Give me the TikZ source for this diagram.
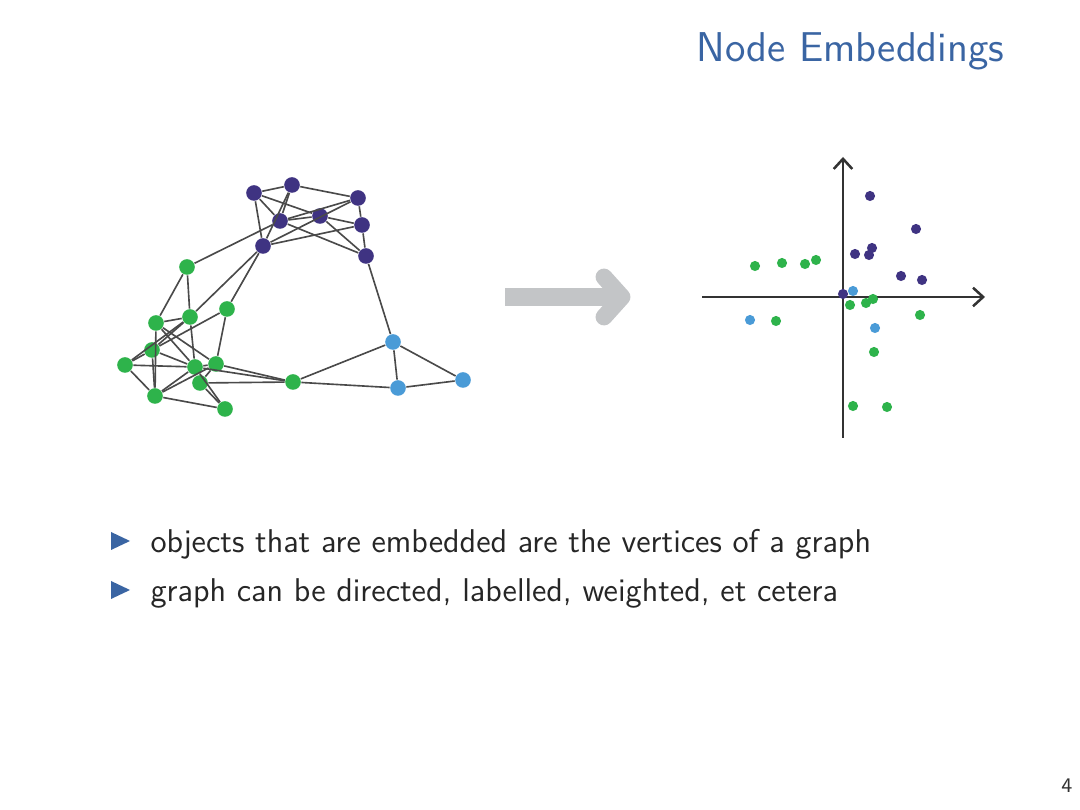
\documentclass[tikz,border=0pt]{standalone}
\usetikzlibrary{arrows.meta}
\definecolor{pur}{HTML}{3F3382}
\definecolor{grn}{HTML}{2EB34B}
\definecolor{blu}{HTML}{4A9BD7}
\definecolor{ttl}{HTML}{3A65A3}
\definecolor{arrg}{HTML}{C3C5C7}
\definecolor{edg}{HTML}{4A4A4A}
\definecolor{axs}{HTML}{333333}
\begin{document}
\begin{tikzpicture}[x=0.11852mm,y=-0.11852mm,
  gv/.style={circle,inner sep=0pt,minimum size=1.85mm},
  pv/.style={gv,fill=pur}, gn/.style={gv,fill=grn}, bv/.style={gv,fill=blu},
  sd/.style={circle,inner sep=0pt,minimum size=1.2mm},
  sp/.style={sd,fill=pur}, sg/.style={sd,fill=grn}, sb/.style={sd,fill=blu},
  edge/.style={draw=edg,line width=0.55pt},
  axis/.style={draw=axs,line width=0.85pt,-{Straight Barb[length=1.2mm,width=2.2mm,line width=0.85pt]}},
  bodytext/.style={anchor=base west,font=\sffamily\fontsize{11.1}{13}\selectfont,text=black!85}]
\useasboundingbox (0,0) rectangle (1080,810);
\fill[white] (0,0) rectangle (1080,810);

% title
\node[anchor=base east,inner sep=0pt,font=\sffamily\fontsize{14.05}{17}\selectfont,text=ttl] (title) at (1005,62) {Node Embeddings};

% graph nodes
\node[pv] (p1) at (254,193) {};
\node[pv] (p2) at (292,185) {};
\node[pv] (p3) at (358,198) {};
\node[pv] (p4) at (280,221) {};
\node[pv] (p5) at (320,216) {};
\node[pv] (p6) at (362,225) {};
\node[pv] (p7) at (263,246) {};
\node[pv] (p8) at (366,256) {};
\node[gn] (g1) at (187,267) {};
\node[gn] (g2) at (156,323) {};
\node[gn] (g3) at (190,317) {};
\node[gn] (g4) at (227,309) {};
\node[gn] (g5) at (152,350) {};
\node[gn] (g6) at (125,365) {};
\node[gn] (g7) at (195,367) {};
\node[gn] (g8) at (216,364) {};
\node[gn] (g9) at (200,383) {};
\node[gn] (g10) at (155,396) {};
\node[gn] (g11) at (225,409) {};
\node[gn] (g12) at (293,382) {};
\node[bv] (b1) at (393,342) {};
\node[bv] (b2) at (398,388) {};
\node[bv] (b3) at (463,380) {};

\foreach \a/\b in {p1/p2,p2/p3,p1/p4,p1/p5,p1/p7,p2/p4,p2/p7,p3/p4,p3/p6,p3/p7,
  p4/p8,p5/p6,p5/p8,p6/p8,p6/p7,p4/p5,
  g1/p4,p7/g3,p7/g4,p8/b1,
  g1/g2,g1/g3,g2/g3,g2/g7,g2/g8,g2/g10,g3/g7,g3/g6,g3/g5,g4/g5,g4/g8,
  g5/g6,g5/g10,g5/g7,g6/g7,g6/g10,g10/g7,g10/g8,g10/g11,g7/g8,g7/g11,
  g7/g12,g8/g12,g9/g12,g8/g9,g9/g11,
  g12/b1,g12/b2,b1/b2,b1/b3,b2/b3}
  \draw[edge] (\a) -- (\b);

% big gray arrow
\fill[arrg] (505,288) rectangle (612,306);
\draw[arrg,line width=2.0mm,line cap=round,line join=round] (604,277) -- (622,297) -- (604,317);

% axes
\coordinate (xl) at (702,297);
\coordinate (xr) at (985,297);
\coordinate (yb) at (843,438);
\coordinate (yt) at (843,157);
\draw[axis] (xl) -- (xr);
\draw[axis] (yb) -- (yt);

% embedded points
\node[sp] (e1) at (870,196) {};
\node[sp] (e2) at (916,229) {};
\node[sp] (e3) at (872,248) {};
\node[sp] (e4) at (869,255) {};
\node[sp] (e5) at (855,254) {};
\node[sp] (e6) at (901,276) {};
\node[sp] (e7) at (922,280) {};
\node[sp] (e8) at (843,294) {};
\node[sb] (e9) at (853,291) {};
\node[sb] (e10) at (750,320) {};
\node[sb] (e11) at (875,328) {};
\node[sg] (e12) at (755,266) {};
\node[sg] (e13) at (782,263) {};
\node[sg] (e14) at (805,264) {};
\node[sg] (e15) at (816,260) {};
\node[sg] (e16) at (850,305) {};
\node[sg] (e17) at (866,303) {};
\node[sg] (e18) at (873,299) {};
\node[sg] (e19) at (920,315) {};
\node[sg] (e20) at (776,321) {};
\node[sg] (e21) at (874,352) {};
\node[sg] (e22) at (853,406) {};
\node[sg] (e23) at (887,407) {};

% bullets
\fill[ttl] (111,532) -- (130,541) -- (111,550) -- cycle;
\fill[ttl] (111,581) -- (130,590) -- (111,599) -- cycle;
\node[bodytext,inner sep=0pt] (t1) at (150,553) {objects that are embedded are the vertices of a graph};
\node[bodytext,inner sep=0pt] (t2) at (150,602) {graph can be directed, labelled, weighted, et cetera};

% page number
\node[anchor=base east,inner sep=0pt,font=\sffamily\fontsize{7}{8}\selectfont,text=black!80] (pg) at (1073,793) {4};
\end{tikzpicture}
\end{document}
